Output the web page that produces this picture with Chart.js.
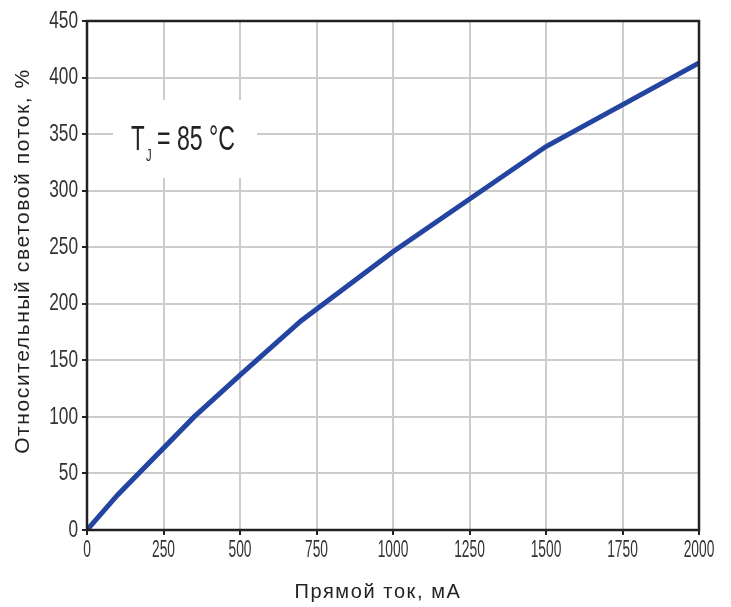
<!DOCTYPE html>
<html>
<head>
<meta charset="utf-8">
<script src="https://cdn.jsdelivr.net/npm/chart.js@4"></script>
<style>
  html, body { margin: 0; padding: 0; background: #fff; }
  #wrap { width: 731px; height: 607px; }
</style>
</head>
<body>
<div id="wrap"><canvas id="chart" width="731" height="607"></canvas></div>
<script>
// forward current, mA
const currentMa = [0, 100, 350, 500, 700, 1000, 1500, 2000];
// relative luminous flux, %
const fluxPct = [0, 31, 100, 137, 185, 246, 339, 413];
const xTicks = [0, 250, 500, 750, 1000, 1250, 1500, 1750, 2000];
const yTicks = [0, 50, 100, 150, 200, 250, 300, 350, 400, 450];

const sans = '"Liberation Sans", Arial, sans-serif';

// condensed text: squeeze a normal font horizontally
function narrowText(ctx, text, x, y, size, squeeze, align) {
    ctx.save();
    ctx.font = size + 'px ' + sans;
    ctx.textAlign = align;
    ctx.translate(x, y);
    ctx.scale(squeeze, 1);
    ctx.fillText(text, 0, 0);
    ctx.restore();
}

// white label box with T_J = 85 °C
const labelBox = {
    id: 'labelBox',
    beforeDatasetsDraw(chart) {
        const ctx = chart.ctx;
        const a = chart.chartArea;
        ctx.save();
        ctx.fillStyle = '#fff';
        ctx.fillRect(a.left + 26, a.top + 79, 144, 78);
        ctx.fillStyle = '#222';
        ctx.textBaseline = 'alphabetic';
        const y = a.top + 129;
        narrowText(ctx, 'T', a.left + 44, y, 35, 0.64, 'left');
        narrowText(ctx, 'J', a.left + 59, y + 11, 16, 0.7, 'left');
        narrowText(ctx, '= 85 °C', a.left + 70, y, 35, 0.66, 'left');
        ctx.restore();
    }
};

// frame, tick labels and axis titles
const decor = {
    id: 'decor',
    afterDatasetsDraw(chart) {
        const ctx = chart.ctx;
        const a = chart.chartArea;
        const xs = chart.scales.x;
        const ys = chart.scales.y;
        ctx.save();
        ctx.strokeStyle = '#222';
        ctx.lineWidth = 2.5;
        ctx.strokeRect(a.left, a.top, a.right - a.left, a.bottom - a.top);

        ctx.fillStyle = '#333';
        ctx.textBaseline = 'middle';
        yTicks.forEach(v => narrowText(ctx, String(v), 78, ys.getPixelForValue(v), 24, 0.72, 'right'));
        xTicks.forEach(v => narrowText(ctx, String(v), xs.getPixelForValue(v), 551, 23, 0.6, 'center'));

        ctx.fillStyle = '#222';
        ctx.textAlign = 'center';
        ctx.font = '20px ' + sans;
        ctx.letterSpacing = '1.6px';
        ctx.fillText('Прямой ток, мА', 378, 592);
        ctx.translate(23, 261);
        ctx.rotate(-Math.PI / 2);
        ctx.font = '21px ' + sans;
        ctx.fillText('Относительный световой поток, %', 0, 0);
        ctx.restore();
    }
};

new Chart(document.getElementById('chart'), {
    type: 'line',
    data: {
        datasets: [{
            data: currentMa.map((x, i) => ({ x: x, y: fluxPct[i] })),
            borderColor: '#2344a0',
            borderWidth: 5,
            pointRadius: 0,
            tension: 0,
            fill: false
        }]
    },
    options: {
        responsive: false,
        animation: false,
        layout: { padding: { top: 21, right: 32, left: 0, bottom: 0 } },
        plugins: { legend: { display: false }, tooltip: { enabled: false } },
        scales: {
            x: {
                type: 'linear',
                min: 0,
                max: 2000,
                afterBuildTicks: (s) => { s.ticks = xTicks.map(v => ({ value: v })); },
                afterFit: (s) => { s.height = 77; },
                grid: { color: '#cccccc', lineWidth: 2, tickLength: 5, tickColor: '#222' },
                border: { display: false },
                ticks: { color: 'rgba(0,0,0,0)', maxRotation: 0 }
            },
            y: {
                min: 0,
                max: 450,
                afterBuildTicks: (s) => { s.ticks = yTicks.map(v => ({ value: v })); },
                afterFit: (s) => { s.width = 87; },
                grid: { color: '#cccccc', lineWidth: 2, tickLength: 5, tickColor: '#222' },
                border: { display: false },
                ticks: { color: 'rgba(0,0,0,0)' }
            }
        }
    },
    plugins: [labelBox, decor]
});
</script>
</body>
</html>
